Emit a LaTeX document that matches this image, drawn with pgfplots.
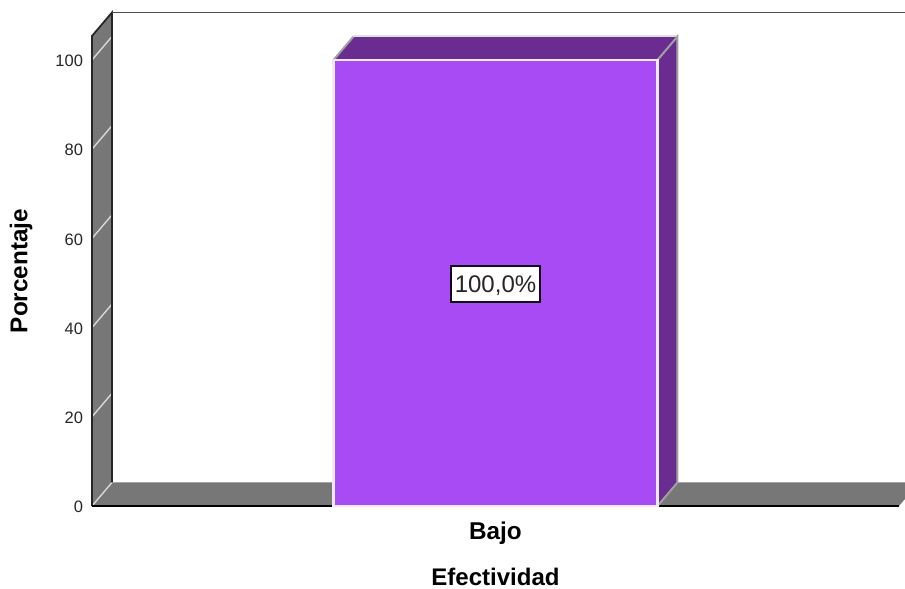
\documentclass[border=0pt]{standalone}
\usepackage{pgfplots}
\pgfplotsset{compat=1.18}
\usepackage{fontspec}
\setmainfont{Liberation Sans}
\definecolor{wallgray}{HTML}{777777}
\definecolor{barfront}{HTML}{A94BF5}
\definecolor{barside}{HTML}{6A2C91}
\definecolor{edgegray}{HTML}{A0A0A0}
\definecolor{ticklight}{HTML}{D8D8D8}
\begin{document}
\begin{tikzpicture}
\path[use as bounding box] (0,0) rectangle (905bp,589bp);
\begin{axis}[
  at={(92bp,83bp)}, anchor=south west,
  scale only axis, width=807bp, height=470bp,
  xmin=-1.2454, xmax=1.2454, ymin=0, ymax=105.38,
  clip=false,
  axis line style={draw=none},
  major tick length=0pt,
  xtick={0}, xticklabels={Bajo},
  ytick={0,20,40,60,80,100},
  /pgf/number format/assume math mode=true,
  yticklabel style={font=\fontsize{16.5bp}{19bp}\selectfont, text=black!85, anchor=east, xshift=-5.5bp, yshift=-1bp},
  xticklabel style={font=\bfseries\fontsize{24.3bp}{27bp}\selectfont, anchor=center, yshift=-27bp},
  xlabel={Efectividad},
  xlabel style={font=\bfseries\fontsize{24bp}{24bp}\selectfont, anchor=center, inner sep=0pt, at={(axis description cs:0.5,0)}, yshift=-71bp},
  ylabel={Porcentaje},
  ylabel style={font=\bfseries\fontsize{24.3bp}{27bp}\selectfont, anchor=center, at={(axis description cs:0,0.5)}, yshift=71bp},
]
% left wall and floor of the box
\addplot[fill=wallgray, draw=none] coordinates {(-1.2454,0) (-1.1837,5.27) (-1.1837,110.65) (-1.2454,105.38) (-1.2454,0)};
\addplot[fill=wallgray, draw=none] coordinates {(-1.2454,0) (-1.1837,5.27) (1.3071,5.27) (1.2454,0) (-1.2454,0)};
% tick lines running across the wall
\addplot[ticklight, line width=1.4bp] coordinates {(-1.2454,0) (-1.1837,5.27)};
\addplot[ticklight, line width=1.4bp] coordinates {(-1.2454,20) (-1.1837,25.27)};
\addplot[ticklight, line width=1.4bp] coordinates {(-1.2454,40) (-1.1837,45.27)};
\addplot[ticklight, line width=1.4bp] coordinates {(-1.2454,60) (-1.1837,65.27)};
\addplot[ticklight, line width=1.4bp] coordinates {(-1.2454,80) (-1.1837,85.27)};
\addplot[ticklight, line width=1.4bp] coordinates {(-1.2454,100) (-1.1837,105.27)};
% wall outlines
\addplot[black!85, line width=1.8bp] coordinates {(-1.2454,0) (-1.2454,105.38) (-1.1837,110.65) (-1.1837,5.27)};
\addplot[black!70, line width=1.8bp] coordinates {(-1.1837,110.65) (1.3071,110.65)};
\addplot[black, line width=1.8bp] coordinates {(-1.2454,0) (1.2454,0)};
% side and top faces of the bar
\addplot[fill=barside, draw=none] coordinates {(0.5,0) (0.5617,5.27) (0.5617,105.27) (0.5,100) (0.5,0)};
\addplot[fill=barside, draw=none] coordinates {(-0.5,100) (-0.4383,105.27) (0.5617,105.27) (0.5,100) (-0.5,100)};
\addplot[edgegray, line width=2bp] coordinates {(-0.5,100) (-0.4383,105.27)};
\addplot[black!12, line width=2bp] coordinates {(-0.4383,105.27) (0.5617,105.27)};
\addplot[edgegray, line width=2bp] coordinates {(0.5,100) (0.5617,105.27) (0.5617,5.27)};
\addplot[edgegray, line width=2bp] coordinates {(0.5,0) (0.5617,5.27)};
% front face of the bar
\addplot[ybar, bar width=1, fill=barfront, draw=white!92!black, line width=2.6bp] coordinates {(0,100)};
% value label: framed box, then its text set slightly low inside it
\node[draw=black!85!barside, fill=white, line width=1.4bp, inner sep=0pt, minimum width=89bp, minimum height=36bp] at (axis cs:0,49.8) {};
\node[inner sep=0pt, font=\fontsize{24bp}{26bp}\selectfont, text=black!85, yshift=-2bp] at (axis cs:0,49.8) {100,0\%};
\end{axis}
\end{tikzpicture}
\end{document}
